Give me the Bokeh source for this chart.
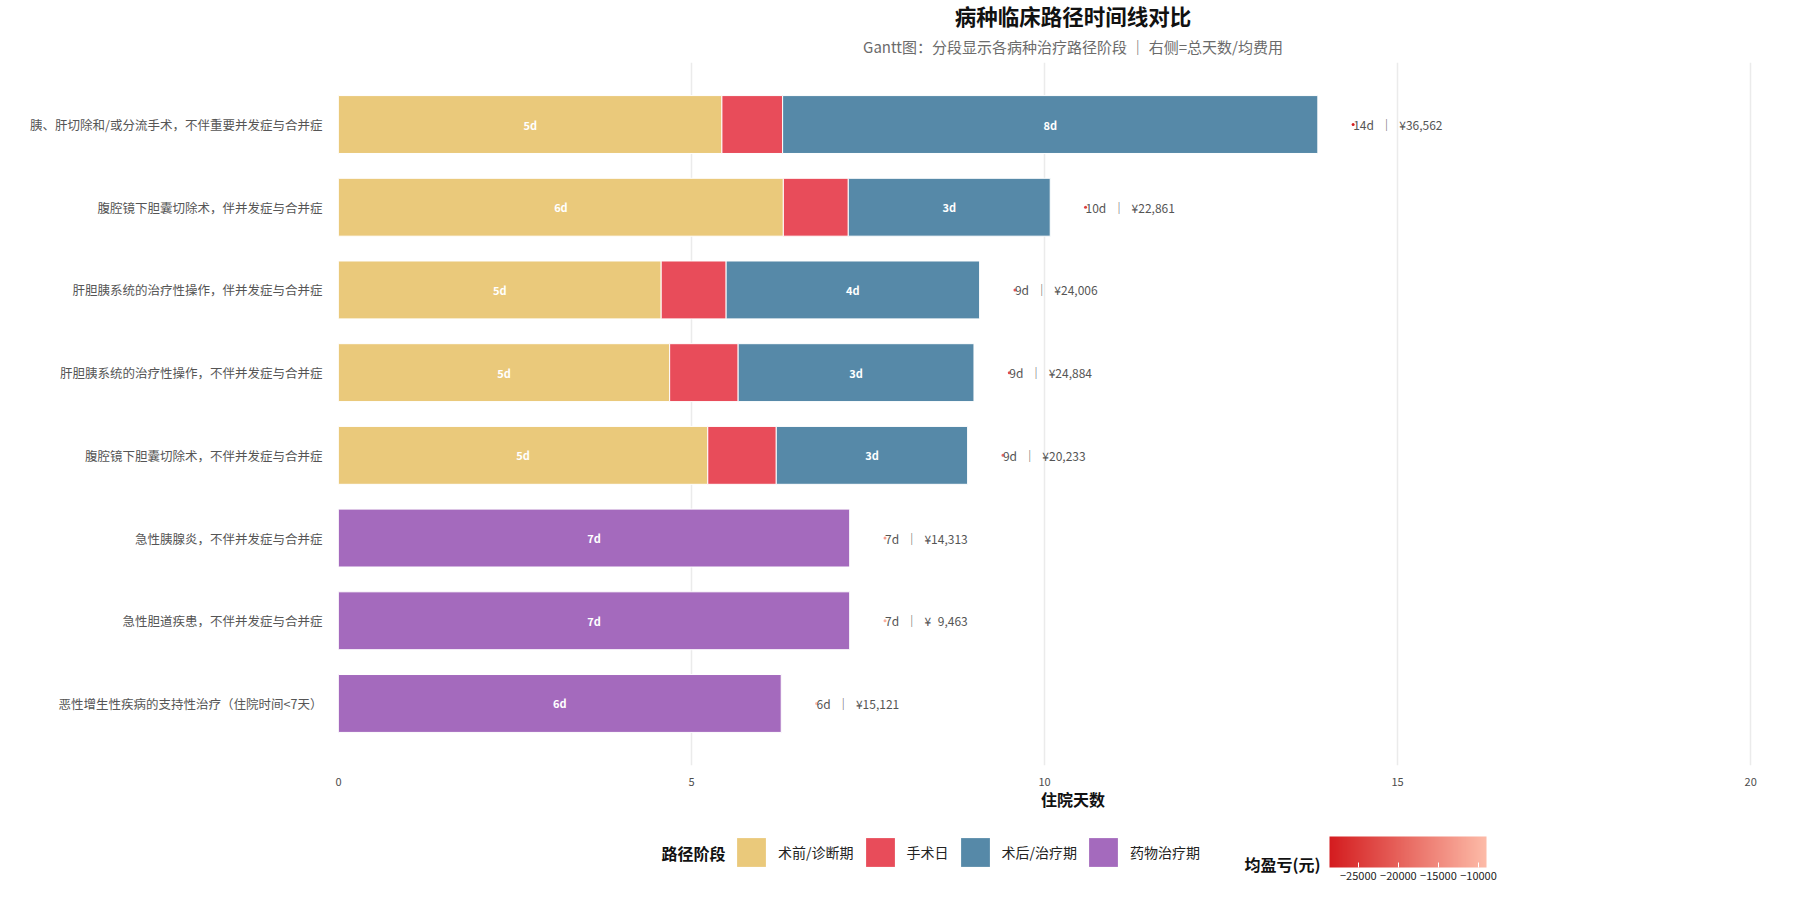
import numpy as np
from bokeh.plotting import figure
from bokeh.layouts import column
from bokeh.models import (Range1d, FixedTicker, Legend, LegendItem, ColorBar,
                          LinearColorMapper, Label, Title, ColumnDataSource,
                          AllLabels)
from bokeh.transform import transform
from bokeh.core.properties import value
from bokeh.embed import file_html
from bokeh.resources import INLINE

FONT = "Noto Sans CJK SC"

# ---- data -------------------------------------------------------------
diseases = [
    "胰、肝切除和/或分流手术，不伴重要并发症与合并症",
    "腹腔镜下胆囊切除术，伴并发症与合并症",
    "肝胆胰系统的治疗性操作，伴并发症与合并症",
    "肝胆胰系统的治疗性操作，不伴并发症与合并症",
    "腹腔镜下胆囊切除术，不伴并发症与合并症",
    "急性胰腺炎，不伴并发症与合并症",
    "急性胆道疾患，不伴并发症与合并症",
    "恶性增生性疾病的支持性治疗（住院时间<7天）",
]
pre_days = [5.43, 6.30, 4.57, 4.69, 5.23, 0, 0, 0]
surgery_days = [0.86, 0.92, 0.92, 0.97, 0.97, 0, 0, 0]
post_days = [7.58, 2.86, 3.59, 3.34, 2.71, 0, 0, 0]
drug_days = [0, 0, 0, 0, 0, 7.24, 7.24, 6.27]
avg_cost = [36562, 22861, 24006, 24884, 20233, 14313, 9463, 15121]
avg_profit = [-28600, -24000, -21500, -22500, -19500, -13000, -10500, -9000]

phase_names = ["术前/诊断期", "手术日", "术后/治疗期", "药物治疗期"]
phase_colors = ["#EAC97B", "#E84C5A", "#5689A8", "#A46ABD"]
x_ticks = [0, 5, 10, 15, 20]
profit_ticks = [-25000, -20000, -15000, -10000]

# ---- derived positions ------------------------------------------------
n = len(diseases)
rows = list(range(1, n + 1))
phases = [pre_days, surgery_days, post_days, drug_days]
totals = [sum(ph[i] for ph in phases) for i in range(n)]

W = 1820
H_MAIN, H_KEY = 830, 80
LEFT, RIGHT = 338, 13
x_max = max(totals) * 1.5

p = figure(width=W, height=H_MAIN, output_backend="svg", toolbar_location=None,
           x_range=Range1d(0, x_max), y_range=Range1d(n + 0.75, 0.25),
           min_border_left=LEFT, min_border_right=RIGHT,
           min_border_top=60, min_border_bottom=65,
           title="病种临床路径时间线对比")
p.outline_line_color = None
p.background_fill_color = "white"
p.border_fill_color = "white"

p.title.align = "center"
p.title.text_font = FONT
p.title.text_font_size = "21.5px"
p.title.text_font_style = "bold"
p.title.text_color = "#111111"
p.title.standoff = -6
p.add_layout(Title(text="Gantt图：分段显示各病种治疗路径阶段 ｜ 右侧=总天数/均费用",
                   align="center", text_font=FONT, text_font_size="15px",
                   text_font_style="normal", text_color="#6b6b6b",
                   standoff=12), "above")

# grid & axes
p.ygrid.grid_line_color = None
p.xgrid.ticker = FixedTicker(ticks=x_ticks)
p.xgrid.grid_line_color = "#EBEBEB"
p.xgrid.grid_line_width = 1.5

p.xaxis.ticker = FixedTicker(ticks=x_ticks)
p.xaxis.axis_line_color = None
p.xaxis.major_tick_line_color = None
p.xaxis.minor_tick_line_color = None
p.xaxis.major_label_text_font = FONT
p.xaxis.major_label_text_font_size = "11px"
p.xaxis.major_label_text_color = "#4D4D4D"
p.xaxis.major_label_standoff = 6
p.xaxis.axis_label = "住院天数"
p.xaxis.axis_label_text_font = FONT
p.xaxis.axis_label_text_font_size = "16px"
p.xaxis.axis_label_text_font_style = "bold"
p.xaxis.axis_label_text_color = "#111111"
p.xaxis.axis_label_standoff = -2

p.yaxis.ticker = FixedTicker(ticks=rows)
p.yaxis.major_label_overrides = {r: d for r, d in zip(rows, diseases)}
p.yaxis.axis_line_color = None
p.yaxis.major_tick_line_color = None
p.yaxis.minor_tick_line_color = None
p.yaxis.major_label_text_font = FONT
p.yaxis.major_label_text_font_size = "12.5px"
p.yaxis.major_label_text_color = "#555555"
p.yaxis.major_label_standoff = 10

# ---- stacked gantt segments ------------------------------------------
seg_x, seg_y, seg_txt = [], [], []
starts = [0.0] * n
for vals, col in zip(phases, phase_colors):
    ys, lefts, rights = [], [], []
    for i in range(n):
        if vals[i] > 0:
            ys.append(rows[i])
            lefts.append(starts[i])
            rights.append(starts[i] + vals[i])
            if vals[i] >= 1.5:
                seg_x.append(starts[i] + vals[i] / 2)
                seg_y.append(rows[i])
                seg_txt.append(f"{round(vals[i])}d")
            starts[i] += vals[i]
    src = ColumnDataSource(dict(y=ys, left=lefts, right=rights))
    p.hbar(y="y", left="left", right="right", height=0.7, source=src,
           fill_color=col, line_color="white", line_width=1)

p.text(x=seg_x, y=seg_y, text=seg_txt, text_font=value(FONT),
       text_font_size="11px", text_font_style="bold", text_color="white",
       text_align="center", text_baseline="middle")

# ---- totals / cost annotations with profit dots ------------------------
low_rgb, high_rgb = (0xD4, 0x1C, 0x1F), (0xFD, 0xBB, 0xA8)
reds = ["#%02X%02X%02X" % tuple(int(round(a + (b - a) * t))
                               for a, b in zip(low_rgb, high_rgb))
        for t in np.linspace(0, 1, 256)]
mapper = LinearColorMapper(palette=reds, low=-28600, high=-9000)

ann = ColumnDataSource(dict(
    x=[t + 0.5 for t in totals], y=rows, profit=avg_profit,
    label=[f"{round(t)}d ｜ ¥{c:>6,}".replace(" ", "\u2007")
           for t, c in zip(totals, avg_cost)],
))
p.scatter(x="x", y="y", source=ann, size=3, line_color=None,
          fill_color=transform("profit", mapper))
p.text(x="x", y="y", text="label", source=ann, text_font=value(FONT),
       text_font_size="12px", text_color="#555555",
       text_align="left", text_baseline="middle")

# ---- key strip: phase legend and profit colour bar ---------------------
# the strip's frame lines up with the chart frame; x is in page pixels
key = figure(width=W, height=H_KEY, output_backend="svg", toolbar_location=None,
             x_range=Range1d(LEFT, W - RIGHT), y_range=Range1d(H_KEY, 0),
             x_axis_location=None, y_axis_location=None,
             min_border=0, min_border_left=LEFT, min_border_right=RIGHT,
             min_border_top=0, min_border_bottom=0)
key.outline_line_color = None
key.grid.visible = False
key.background_fill_color = "white"
key.border_fill_color = "white"

# hidden swatch renderers that only feed the legend keys
swatches = []
for col in phase_colors:
    swatches.append(key.hbar(y=[0], left=[0], right=[0], height=0,
                             fill_color=col, line_color=None, visible=False))

legend = Legend(items=[LegendItem(label=nm, renderers=[r])
                       for nm, r in zip(phase_names, swatches)],
                orientation="horizontal", location=(733 - LEFT, 40),
                glyph_width=36, glyph_height=36, label_standoff=9,
                spacing=8, padding=0, margin=0,
                inactive_fill_alpha=0,
                label_text_font=FONT, label_text_font_size="14px",
                label_text_color="#222222",
                border_line_color=None, background_fill_alpha=0)
key.add_layout(legend, "center")

key.add_layout(Label(x=661, y=22, text="路径阶段", text_font=FONT,
                     text_font_size="16px", text_font_style="bold",
                     text_color="#111111", text_baseline="middle"))
key.add_layout(Label(x=1244, y=33, text="均盈亏(元)", text_font=FONT,
                     text_font_size="16px", text_font_style="bold",
                     text_color="#111111", text_baseline="middle"))

cbar = ColorBar(color_mapper=mapper, orientation="horizontal",
                width=157, height=31, location=(1329 - LEFT, 28), padding=0,
                margin=0, ticker=FixedTicker(ticks=profit_ticks),
                major_label_policy=AllLabels(),
                major_tick_line_color="white", major_tick_in=5,
                major_label_text_font=FONT, major_label_text_font_size="11px",
                major_label_text_color="#222222", label_standoff=4,
                bar_line_color=None, border_line_color=None,
                background_fill_alpha=0)
key.add_layout(cbar, "center")

layout = column(p, key, spacing=0)
open("out.html", "w").write(file_html(layout, INLINE))
